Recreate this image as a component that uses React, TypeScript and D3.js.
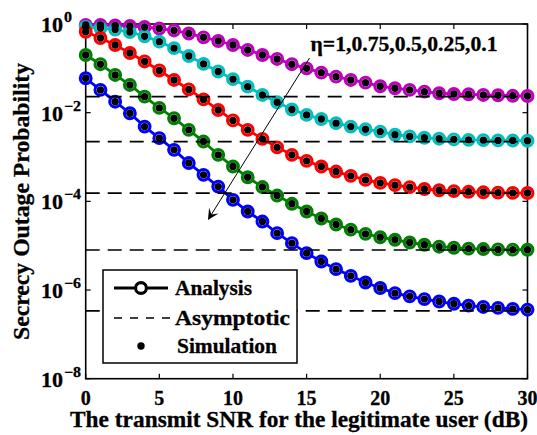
import React from 'react';
import * as d3 from 'd3';

// SNR (dB) of the legitimate user
const snrDb = [0, 1, 2, 3, 4, 5, 6, 7, 8, 9, 10, 11, 12, 13, 14, 15, 16, 17, 18, 19, 20, 21, 22, 23, 24, 25, 26, 27, 28, 29, 30];

// Analysis (and simulation) secrecy outage probability for each eta
const etaLabels = ['1', '0.75', '0.5', '0.25', '0.1'];
const pEta1 = [0.95, 0.95, 0.925, 0.9, 0.855, 0.79, 0.715, 0.61, 0.5, 0.414, 0.336, 0.26, 0.2, 0.163, 0.124, 0.1, 0.08, 0.065, 0.0547, 0.0475, 0.0394, 0.0356, 0.0326, 0.0298, 0.0274, 0.0264, 0.026, 0.0251, 0.0247, 0.024, 0.0238];
const pEta075 = [0.855, 0.81, 0.75, 0.66, 0.53, 0.4, 0.285, 0.19, 0.126, 0.085, 0.057, 0.0386, 0.0251, 0.0172, 0.0118, 0.0089, 0.0072, 0.0058, 0.00485, 0.00424, 0.00374, 0.00318, 0.00292, 0.00272, 0.00259, 0.0025, 0.00244, 0.0024, 0.00237, 0.00235, 0.00233];
const pEta05 = [0.67, 0.483, 0.336, 0.222, 0.143, 0.0895, 0.0547, 0.0334, 0.0199, 0.0115, 0.0067, 0.0041, 0.00256, 0.00165, 0.00112, 8.2e-4, 6.1e-4, 4.7e-4, 3.76e-4, 3.05e-4, 2.61e-4, 2.32e-4, 2.09e-4, 1.9e-4, 1.78e-4, 1.7e-4, 1.64e-4, 1.6e-4, 1.57e-4, 1.55e-4, 1.54e-4];
const pEta025 = [0.2, 0.124, 0.071, 0.0422, 0.023, 0.0128, 0.0075, 0.0041, 0.00223, 0.00112, 6.1e-4, 3.5e-4, 2.1e-4, 1.35e-4, 8.8e-5, 5.9e-5, 4.1e-5, 3.0e-5, 2.3e-5, 1.85e-5, 1.55e-5, 1.36e-5, 1.18e-5, 1.05e-5, 9.5e-6, 9.0e-6, 8.6e-6, 8.4e-6, 8.25e-6, 8.15e-6, 8.1e-6];
const pEta01 = [0.0598, 0.0326, 0.0177, 0.0097, 0.00485, 0.00266, 0.00145, 7.3e-4, 3.96e-4, 2.15e-4, 1.08e-4, 5.9e-5, 3.5e-5, 1.92e-5, 1.14e-5, 6.8e-6, 4.4e-6, 2.96e-6, 2.09e-6, 1.48e-6, 1.11e-6, 8.5e-7, 7.2e-7, 6.25e-7, 5.5e-7, 4.9e-7, 4.45e-7, 4.15e-7, 3.95e-7, 3.75e-7, 3.6e-7];

// Asymptotic (high-SNR) floors
const asymptotes = [0.023, 0.00222, 1.53e-4, 8.0e-6, 3.4e-7];

const seriesColors = ['#BF00BF', '#00BFBF', '#FF0000', '#008000', '#0000FF'];

const xTicks = [0, 5, 10, 15, 20, 25, 30];
const yTickExp = [0, -2, -4, -6, -8];

// annotation arrow (data coordinates)
const arrowFrom = [15.2, 0.171];
const arrowTo = [8.3, 3.8e-5];
const annotAt = [15.27, 0.246];

const FONT = "'Liberation Serif','Times New Roman',serif";

const T = ({ x, y, size, anchor = 'start', sx = 1, rotate = 0, children, len }: any) => (
  <text
    transform={`translate(${x},${y}) rotate(${rotate}) scale(${sx},1)`}
    fontSize={size}
    textAnchor={anchor}
    fontFamily={FONT}
    fontWeight="bold"
    fill="#000"
    stroke="#000"
    strokeWidth={0.3}
    textLength={len}
    lengthAdjust={len ? 'spacingAndGlyphs' : undefined}
  >
    {children}
  </text>
);

export default function App() {
  const W = 537, H = 435;
  const x = d3.scaleLinear().domain([0, 30]).range([85.7, 527.5]);
  const y = d3.scaleLog().domain([1, 1e-8]).range([24, 378.7]);
  const series = [pEta1, pEta075, pEta05, pEta025, pEta01];
  const line = d3.line<number>().x((_, i) => x(snrDb[i])).y((d) => y(d));

  // arrow geometry
  const ax1 = x(arrowFrom[0]), ay1 = y(arrowFrom[1]);
  const ax2 = x(arrowTo[0]), ay2 = y(arrowTo[1]);
  const dx = ax2 - ax1, dy = ay2 - ay1;
  const L = Math.hypot(dx, dy);
  const ux = dx / L, uy = dy / L;
  const px = -uy, py = ux;
  const hl = 11, hw = 5.5;
  const head = [
    [ax2, ay2],
    [ax2 - ux * hl + px * hw, ay2 - uy * hl + py * hw],
    [ax2 - ux * hl * 0.6, ay2 - uy * hl * 0.6],
    [ax2 - ux * hl - px * hw, ay2 - uy * hl - py * hw],
  ];

  const [x0, x1] = x.range();
  const [y0, y1] = y.range();

  return (
    <svg width={W} height={H} style={{ position: 'absolute', left: 0, top: 0, background: '#fff' }}>
      <rect x={0} y={0} width={W} height={H} fill="#fff" />
      {/* axes box */}
      <rect x={x0} y={y0} width={x1 - x0} height={y1 - y0} fill="none" stroke="#000" strokeWidth={1.6} />
      {xTicks.map((t) => (
        <g key={'xt' + t}>
          <line x1={x(t)} x2={x(t)} y1={y1} y2={y1 - 5} stroke="#000" strokeWidth={1.2} />
          <line x1={x(t)} x2={x(t)} y1={y0} y2={y0 + 5} stroke="#000" strokeWidth={1.2} />
          <T x={x(t)} y={405} size={20} anchor="middle">{t}</T>
        </g>
      ))}
      {yTickExp.map((e) => {
        const yy = y(Math.pow(10, e));
        return (
          <g key={'yt' + e}>
            <line x1={x0} x2={x0 + 5} y1={yy} y2={yy} stroke="#000" strokeWidth={1.2} />
            <line x1={x1} x2={x1 - 5} y1={yy} y2={yy} stroke="#000" strokeWidth={1.2} />
            <T x={63} y={yy + 8} size={21} anchor="end" sx={1.05}>10</T>
            <T x={64} y={yy - 2} size={14.5} anchor="start" sx={1.1}>{e === 0 ? '0' : '\u2212' + Math.abs(e)}</T>
          </g>
        );
      })}

      {/* analysis curves */}
      {series.map((s, k) => (
        <g key={'an' + k}>
          <path d={line(s) || ''} fill="none" stroke={seriesColors[k]} strokeWidth={2.8} />
          {s.map((v, i) => (
            <circle key={i} cx={x(snrDb[i])} cy={y(v)} r={5.4} fill="#fff" stroke={seriesColors[k]} strokeWidth={3.1} />
          ))}
        </g>
      ))}

      {/* asymptotes */}
      {asymptotes.map((a, k) => (
        <line key={'as' + k} x1={x(snrDb[0])} x2={x(snrDb[snrDb.length - 1])} y1={y(a)} y2={y(a)} stroke="#000" strokeWidth={1.7} strokeDasharray="14,8" />
      ))}

      {/* simulation */}
      {series.map((s, k) => (
        <g key={'sim' + k}>
          {s.map((v, i) => (
            <circle key={i} cx={x(snrDb[i])} cy={y(v)} r={3.7} fill="#000" />
          ))}
        </g>
      ))}

      {/* annotation */}
      <line x1={ax1} y1={ay1} x2={ax2 - ux * 6} y2={ay2 - uy * 6} stroke="#000" strokeWidth={1} />
      <path d={'M' + head.map((p) => p.join(',')).join('L') + 'Z'} fill="#000" />
      <T x={x(annotAt[0])} y={y(annotAt[1])} size={20} len={187}>{'\u03b7=' + etaLabels.join(',')}</T>

      {/* legend */}
      <rect x={103} y={270} width={194} height={93} fill="#fff" stroke="#000" strokeWidth={1.5} />
      <line x1={114} x2={168} y1={288} y2={288} stroke="#000" strokeWidth={2.8} />
      <circle cx={141} cy={288} r={5.4} fill="#fff" stroke="#000" strokeWidth={3.1} />
      <T x={175} y={295} size={21} len={77}>Analysis</T>
      <line x1={114} x2={170} y1={318} y2={318} stroke="#000" strokeWidth={1.5} strokeDasharray="8,8" />
      <T x={175} y={325} size={21} len={115}>Asymptotic</T>
      <circle cx={141} cy={346} r={3.7} fill="#000" />
      <T x={177} y={353} size={21} len={100}>Simulation</T>

      {/* axis titles */}
      <T x={299} y={427} size={23} anchor="middle" len={458}>The transmit SNR for the legitimate user (dB)</T>
      <T x={29} y={201.5} size={23} anchor="middle" rotate={-90} len={277}>Secrecy Outage Probability</T>
    </svg>
  );
}
